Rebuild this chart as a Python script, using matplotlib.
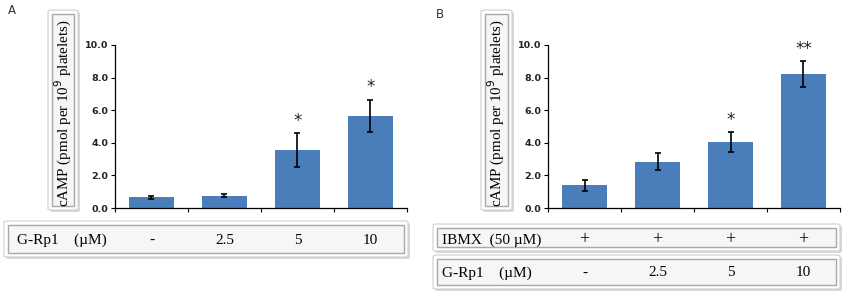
import numpy as np
import matplotlib.pyplot as plt
from matplotlib.patches import FancyBboxPatch, Rectangle
from matplotlib.transforms import blended_transform_factory

# data
categories = ["-", "2.5", "5", "10"]
a_means = [0.65, 0.75, 3.55, 5.65]
a_err = [0.10, 0.08, 1.05, 1.00]
a_sig = ["", "", "*", "*"]
b_means = [1.40, 2.85, 4.05, 8.20]
b_err = [0.33, 0.50, 0.60, 0.80]
b_sig = ["", "", "*", "**"]
ibmx = ["+", "+", "+", "+"]
yticks = [0.0, 2.0, 4.0, 6.0, 8.0, 10.0]

W, H = 850, 298
BAR_COLOR = "#4a7ebb"
SERIF = "Liberation Serif"

fig = plt.figure(figsize=(W / 100, H / 100), dpi=100)


def fx(x):
    return x / W


def fy(y):
    return 1 - y / H


def box(x0, y0, x1, y1):
    # shadow
    fig.patches.append(FancyBboxPatch(
        (fx(x0 + 2), fy(y1 + 2)), fx(x1 - x0), (y1 - y0) / H,
        boxstyle="round,pad=0,rounding_size=0.004",
        fc="#d8d8d8", ec="none", transform=fig.transFigure, zorder=0))
    fig.patches.append(FancyBboxPatch(
        (fx(x0), fy(y1)), fx(x1 - x0), (y1 - y0) / H,
        boxstyle="round,pad=0,rounding_size=0.004",
        fc="white", ec="#d0d0d0", lw=0.8, transform=fig.transFigure, zorder=1))
    fig.patches.append(Rectangle(
        (fx(x0 + 4), fy(y1 - 4)), fx(x1 - x0 - 8), (y1 - y0 - 8) / H,
        fc="#f6f6f6", ec="#a8a8a8", lw=1.0, transform=fig.transFigure, zorder=2))


def panel(left_px, means, err, sig, letter, letter_xy, ylab_box):
    ax = fig.add_axes([fx(left_px), fy(208), fx(292), (208 - 45) / H])
    x = np.arange(len(means))
    ax.bar(x, means, width=0.63, color=BAR_COLOR, zorder=2)
    ax.errorbar(x, means, yerr=err, fmt="none", ecolor="black",
                elinewidth=1.2, capsize=2, capthick=1.2, zorder=3)
    for xi, m, e, s in zip(x, means, err, sig):
        if s:
            ax.text(xi, m + e + 0.75, s, ha="center", va="center",
                    fontsize=12, family="DejaVu Sans", color="#222222")
    ax.set_xlim(-0.5, len(means) - 0.5)
    ax.set_ylim(0, 10)
    ax.set_yticks(yticks)
    ax.set_yticklabels([f"{v:.1f}" for v in yticks], fontsize=6.8,
                       fontweight="bold", color="#222222")
    ax.set_xticks(np.arange(len(means) + 1) - 0.5)
    ax.set_xticklabels([])
    ax.tick_params(direction="out", length=3, width=0.8, pad=2)
    for s in ["top", "right"]:
        ax.spines[s].set_visible(False)
    for s in ["left", "bottom"]:
        ax.spines[s].set_linewidth(0.9)

    bx0, bx1 = ylab_box
    box(bx0, 10, bx1, 210)
    fig.text(fx((bx0 + bx1) / 2), fy(113),
             "cAMP (pmol per 10$^{9}$ platelets)", rotation=90,
             ha="center", va="center", fontsize=10.8, family=SERIF, zorder=5)
    fig.text(fx(letter_xy[0]), fy(letter_xy[1]), letter, fontsize=8.5,
             ha="left", va="center", color="#333333")
    return ax


ax_a = panel(115, a_means, a_err, a_sig, "A", (8, 10), (48, 78))
ax_b = panel(548, b_means, b_err, b_sig, "B", (436, 15), (481, 512))

# treatment tables
box(4, 221, 408, 257)
tr_a = blended_transform_factory(ax_a.transData, fig.transFigure)
fig.text(fx(17), fy(240), "G-Rp1    (µM)", fontsize=11, family=SERIF,
         ha="left", va="center", zorder=5)
for i, c in enumerate(categories):
    fig.text(i, fy(240), c, transform=tr_a, fontsize=11, family=SERIF,
             ha="center", va="center", zorder=5)

box(433, 224, 840, 251)
box(433, 255, 840, 289)
tr_b = blended_transform_factory(ax_b.transData, fig.transFigure)
fig.text(fx(442), fy(240), "IBMX  (50 µM)", fontsize=11, family=SERIF,
         ha="left", va="center", zorder=5)
fig.text(fx(442), fy(273), "G-Rp1    (µM)", fontsize=11, family=SERIF,
         ha="left", va="center", zorder=5)
for i, (c, p) in enumerate(zip(categories, ibmx)):
    fig.text(i, fy(240), p, transform=tr_b, fontsize=13, family=SERIF,
             ha="center", va="center", zorder=5)
    fig.text(i, fy(273), c, transform=tr_b, fontsize=11, family=SERIF,
             ha="center", va="center", zorder=5)

fig.savefig("out.png", dpi=100)
